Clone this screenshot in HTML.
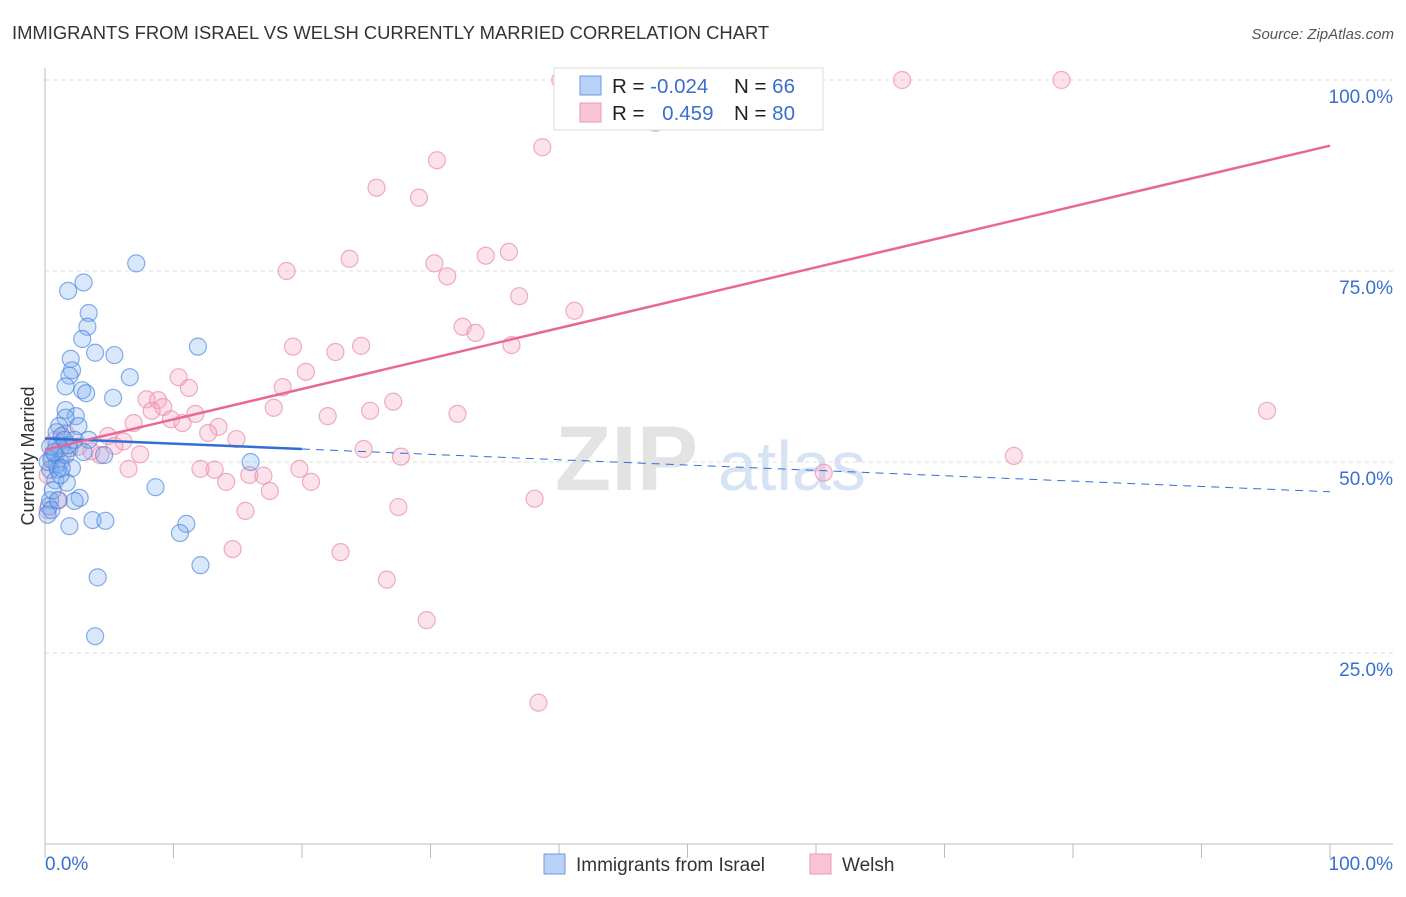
<!DOCTYPE html>
<html><head><meta charset="utf-8"><style>
body{margin:0;background:#fff;font-family:"Liberation Sans",sans-serif}
svg text{font-family:"Liberation Sans",sans-serif}
</style></head><body>
<svg width="1406" height="892" xmlns="http://www.w3.org/2000/svg">
<text x="12" y="39" font-size="18.4" fill="#333">IMMIGRANTS FROM ISRAEL VS WELSH CURRENTLY MARRIED CORRELATION CHART</text>
<text x="1394" y="39" font-size="15" fill="#555" font-style="italic" text-anchor="end">Source: ZipAtlas.com</text>
<g><text x="555" y="490" font-size="92" fill="#ddd" font-family="Liberation Serif" font-weight="bold" opacity="0.8">ZIP</text><text x="718" y="490" font-size="70" fill="#c5d8f0" opacity="0.7">atlas</text></g>
<g id="grid"></g><g id="axes"></g><g id="pts"></g><g id="lines"></g>
<text x="34" y="456" font-size="18" fill="#333" text-anchor="middle" transform="rotate(-90 34 456)">Currently Married</text>
<g>
<rect x="554" y="68" width="269" height="62" fill="#fff" stroke="#ddd"/>
<rect x="580" y="76" width="21" height="19" fill="#b8d2f5" stroke="#6b9be0"/>
<rect x="580" y="103" width="21" height="19" fill="#f9c5d5" stroke="#eb9ab4"/>
<text x="612" y="93" font-size="20.5" fill="#222">R = <tspan fill="#3a6fd0">-0.024</tspan></text>
<text x="734" y="93" font-size="20.5" fill="#222">N = <tspan fill="#3a6fd0">66</tspan></text>
<text x="612" y="120" font-size="20.5" fill="#222">R = <tspan fill="#3a6fd0" dx="12">0.459</tspan></text>
<text x="734" y="120" font-size="20.5" fill="#222">N = <tspan fill="#3a6fd0">80</tspan></text>
</g>
<g>
<rect x="544" y="854" width="21" height="20" fill="#b8d2f5" stroke="#6b9be0"/>
<text x="576" y="871" font-size="19" fill="#333">Immigrants from Israel</text>
<rect x="810" y="854" width="21" height="20" fill="#f9c5d5" stroke="#eb9ab4"/>
<text x="842" y="871" font-size="19" fill="#333">Welsh</text>
</g>
</svg>
<script>
const blueX=[7.1,3.0,1.8,3.4,3.3,2.9,3.9,5.4,2.0,2.1,6.6,1.9,1.6,2.9,3.2,5.3,11.9,1.6,2.4,1.6,2.6,1.1,0.9,1.3,3.4,1.5,0.9,1.9,3.0,0.8,4.6,0.5,1.2,0.9,2.1,0.4,1.0,16.0,0.8,1.7,8.6,2.7,2.3,0.4,0.3,0.5,1.9,3.7,4.7,11.0,10.5,4.1,12.1,3.9,0.2,1.2,0.4,1.6,0.6,1.2,0.2,1.0,1.8,2.3,1.3,0.7];
const blueY=[76.0,73.5,72.4,69.5,67.7,66.1,64.3,64.0,63.5,62.0,61.1,61.3,59.9,59.4,59.0,58.4,65.1,56.8,56.0,55.8,54.7,54.7,53.9,53.4,52.9,52.9,52.2,51.8,51.3,50.9,50.9,50.3,50.0,49.6,49.2,49.0,49.0,50.0,47.6,47.3,46.7,45.3,44.9,45.0,44.2,43.7,41.6,42.4,42.3,41.9,40.7,34.9,36.5,27.2,43.1,51.8,52.0,50.9,46.3,48.3,50.0,45.0,52.2,52.9,49.2,51.3];
const pinkX=[40.1,45.7,54.1,66.7,79.1,47.5,38.7,30.5,25.8,29.1,23.7,18.8,30.3,31.3,34.3,36.1,36.9,41.2,32.5,33.5,19.3,36.3,22.6,24.6,20.3,10.4,11.2,18.5,7.9,8.8,9.2,8.3,17.8,11.7,9.8,22.0,25.3,27.1,32.1,6.9,13.5,10.7,12.7,14.9,6.1,4.9,1.6,1.4,4.3,3.6,7.4,5.4,2.6,24.8,27.7,75.4,60.6,95.1,12.1,13.2,6.5,14.1,15.9,17.0,19.8,20.7,17.5,0.5,0.8,0.2,1.1,0.2,15.6,14.6,23.0,27.5,38.1,26.6,29.7,38.4];
const pinkY=[100,100,100,100,100,94.4,91.2,89.5,85.9,84.6,76.6,75.0,76.0,74.3,77.0,77.5,71.7,69.8,67.7,66.9,65.1,65.3,64.4,65.2,61.8,61.1,59.7,59.8,58.2,58.1,57.2,56.7,57.1,56.3,55.6,56.0,56.7,57.9,56.3,55.1,54.6,55.1,53.8,53.0,52.7,53.4,53.8,51.0,50.9,51.4,51.0,52.1,52.0,51.7,50.7,50.8,48.6,56.7,49.1,49.0,49.1,47.4,48.3,48.2,49.1,47.4,46.2,50.5,52.9,48.3,45.0,43.7,43.6,38.6,38.2,44.1,45.2,34.6,29.3,18.5];
const yTicks=[25,50,75,100];
const yTickLabels=["25.0%","50.0%","75.0%","100.0%"];
const blueTrend=[53.1,-0.07];
const pinkTrend=[51.6,0.398];
const NS="http://www.w3.org/2000/svg";
const X0=45,X1=1330,Y0=844,Y100=80;
const sx=v=>X0+(X1-X0)*v/100, sy=v=>Y0-(Y0-Y100)*v/100;
function mk(t,a,p){const e=document.createElementNS(NS,t);for(const k in a)e.setAttribute(k,a[k]);p.appendChild(e);return e;}
const grid=document.getElementById('grid'),axes=document.getElementById('axes'),pts=document.getElementById('pts'),lines=document.getElementById('lines');
yTicks.forEach((t,i)=>{
 const g=mk('line',{x1:X0,x2:1393,y1:sy(t),y2:sy(t),stroke:'#ddd','stroke-dasharray':'4,4'},grid);
 
 
 const l=mk('text',{x:1393,y:sy(t)+23,'font-size':19,fill:'#3a6fd0','text-anchor':'end'},axes);
 l.textContent=yTickLabels[i];
 
 
});
const ya=mk('line',{x1:X0,x2:X0,y1:68,y2:Y0,stroke:'#bbb'},axes);


const xa=mk('line',{x1:X0,x2:1393,y1:Y0,y2:Y0,stroke:'#bbb'},axes);


for(let i=0;i<=10;i++){
 const t=mk('line',{x1:sx(i*10),x2:sx(i*10),y1:Y0,y2:Y0+14,stroke:'#bbb'},axes);
 
 
}
[["0.0%",X0,'start'],["100.0%",1393,'end']].forEach(a=>{
 const l=mk('text',{x:a[1],y:870,'font-size':19,fill:'#3a6fd0','text-anchor':a[2]},axes);
 l.textContent=a[0];
 
 
});
pinkX.forEach((x,i)=>{
 const c=mk('circle',{cx:sx(x),cy:sy(pinkY[i]),r:8.5,fill:'rgba(244,160,188,0.3)',stroke:'rgba(232,140,170,0.7)','stroke-width':1.2},pts);
 
 
});
blueX.forEach((x,i)=>{
 const c=mk('circle',{cx:sx(x),cy:sy(blueY[i]),r:8.5,fill:'rgba(130,175,240,0.3)',stroke:'rgba(70,130,220,0.65)','stroke-width':1.2},pts);
 
 
});
const bt=v=>blueTrend[0]+blueTrend[1]*v, pt=v=>pinkTrend[0]+pinkTrend[1]*v;
const b1=mk('line',{x1:sx(0),y1:sy(bt(0)),x2:sx(20),y2:sy(bt(20)),stroke:'#2f6fd6','stroke-width':2.5},lines);


const b2=mk('line',{x1:sx(20),y1:sy(bt(20)),x2:sx(100),y2:sy(bt(100)),stroke:'#2f6fd6','stroke-width':1,'stroke-dasharray':'8,6'},lines);


const p1=mk('line',{x1:sx(0),y1:sy(pt(0)),x2:sx(100),y2:sy(pt(100)),stroke:'#e8679a','stroke-width':2.5},lines);


</script>
</body></html>
